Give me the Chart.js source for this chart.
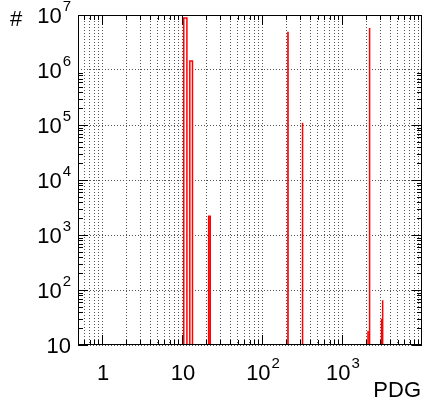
<!DOCTYPE html>
<html>
<head>
<meta charset="utf-8">
<script src="https://cdn.jsdelivr.net/npm/chart.js@4.4.0/dist/chart.umd.min.js"></script>
<style>
  body { margin: 0; background: #fff; }
</style>
</head>
<body>
<canvas id="pdgChart" width="423" height="400"></canvas>
<script>
var pdgCodes = [11, 13, 22, 211, 321, 2112, 2212, 3122, 3222];
var counts = [8.8e6, 1.45e6, 2200, 4.8e6, 1.1e5, 18, 5.8e6, 30, 65];

// axis labels: [base, exponent]
var xTickValues = [1, 10, 100, 1000];
var xTickLabels = [['1', ''], ['10', ''], ['10', '2'], ['10', '3']];
var yTickValues = [10, 1e2, 1e3, 1e4, 1e5, 1e6, 1e7];
var yTickLabels = [['10', ''], ['10', '2'], ['10', '3'], ['10', '4'], ['10', '5'], ['10', '6'], ['10', '7']];

var xMin = 0.5, xMax = 9999.5;
var yMin = 10, yMax = 1e7;

var FONT = '"Liberation Sans", Arial, sans-serif';

// 1..9 x 10^n inside a range, used for grid and tick marks
function logSteps(lo, hi) {
  var out = [];
  for (var n = -2; n <= 5; n++) {
    for (var m = 1; m <= 9; m++) {
      var v = m * Math.pow(10, n);
      if (v > lo && v < hi) out.push(v);
    }
  }
  return out;
}
function isDecade(v) {
  var l = Math.log10(v);
  return Math.abs(l - Math.round(l)) < 1e-9;
}

// histogram outline, each bin one unit wide, empty bins sit on the axis minimum
var histPoints = [{ x: xMin, y: yMin }];
pdgCodes.forEach(function (c, i) {
  histPoints.push({ x: c - 0.5, y: yMin });
  histPoints.push({ x: c - 0.5, y: counts[i] });
  histPoints.push({ x: c + 0.5, y: counts[i] });
  histPoints.push({ x: c + 0.5, y: yMin });
});
histPoints.push({ x: xMax, y: yMin });

function drawPower(ctx, base, exp, x, y, align) {
  ctx.font = '22px ' + FONT;
  var wb = ctx.measureText(base).width;
  ctx.font = '15px ' + FONT;
  var we = exp ? ctx.measureText(exp).width + 1 : 0;
  var left = align === 'right' ? x - wb - we : x - (wb + we) / 2;
  ctx.textAlign = 'left';
  ctx.textBaseline = 'alphabetic';
  ctx.font = '22px ' + FONT;
  ctx.fillText(base, left, y);
  if (exp) {
    ctx.font = '15px ' + FONT;
    ctx.fillText(exp, left + wb + 1, y - 12);
  }
}

var frameAndLabels = {
  id: 'frameAndLabels',
  afterDraw: function (chart) {
    var ctx = chart.ctx, a = chart.chartArea;
    var xs = chart.scales.x, ys = chart.scales.y;
    ctx.save();
    ctx.strokeStyle = '#000';
    ctx.lineWidth = 1;
    ctx.beginPath();
    logSteps(xMin, xMax).forEach(function (v) {
      var px = Math.round(xs.getPixelForValue(v)) + 0.5;
      var len = isDecade(v) ? 10 : 5;
      ctx.moveTo(px, a.bottom); ctx.lineTo(px, a.bottom - len);
      ctx.moveTo(px, a.top); ctx.lineTo(px, a.top + len);
    });
    logSteps(yMin * 0.99, yMax * 1.01).forEach(function (v) {
      var py = Math.round(ys.getPixelForValue(v)) + 0.5;
      var len = isDecade(v) ? 10 : 5;
      ctx.moveTo(a.left, py); ctx.lineTo(a.left + len, py);
      ctx.moveTo(a.right, py); ctx.lineTo(a.right - len, py);
    });
    ctx.stroke();
    ctx.strokeRect(a.left + 0.5, a.top + 0.5, a.right - a.left - 1, a.bottom - a.top - 1);

    ctx.fillStyle = '#000';
    xTickValues.forEach(function (v, i) {
      drawPower(ctx, xTickLabels[i][0], xTickLabels[i][1], xs.getPixelForValue(v) + 1, 380, 'center');
    });
    yTickValues.forEach(function (v, i) {
      drawPower(ctx, yTickLabels[i][0], yTickLabels[i][1], 71, ys.getPixelForValue(v) + 8, 'right');
    });

    ctx.font = '22px ' + FONT;
    ctx.textAlign = 'right';
    ctx.fillText('PDG', 421, 397);
    ctx.textAlign = 'center';
    ctx.fillText('#', 16, 26);
    ctx.restore();
  }
};

new Chart(document.getElementById('pdgChart'), {
  type: 'line',
  data: {
    datasets: [{
      data: histPoints,
      borderColor: '#ff0000',
      borderWidth: 1.5,
      pointRadius: 0,
      fill: false,
      tension: 0
    }]
  },
  options: {
    responsive: false,
    animation: false,
    parsing: false,
    layout: { padding: { top: 15, right: 1, left: 0, bottom: 0 } },
    plugins: { legend: { display: false }, tooltip: { enabled: false } },
    scales: {
      x: {
        type: 'logarithmic',
        min: xMin,
        max: xMax,
        afterBuildTicks: function (s) {
          s.ticks = logSteps(xMin, xMax).map(function (v) { return { value: v }; });
        },
        afterFit: function (s) { s.height = 55; },
        ticks: { display: false },
        grid: { color: '#555', lineWidth: 1, drawTicks: false },
        border: { display: false, dash: [1, 2] }
      },
      y: {
        type: 'logarithmic',
        min: yMin,
        max: yMax,
        afterBuildTicks: function (s) {
          s.ticks = yTickValues.map(function (v) { return { value: v }; });
        },
        afterFit: function (s) { s.width = 78; },
        ticks: { display: false },
        grid: { color: '#555', lineWidth: 1, drawTicks: false },
        border: { display: false, dash: [1, 2] }
      }
    }
  },
  plugins: [frameAndLabels]
});
</script>
</body>
</html>
